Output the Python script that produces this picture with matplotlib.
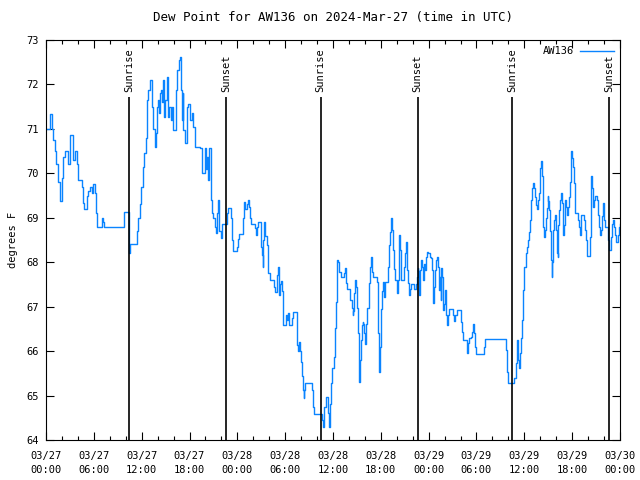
import matplotlib
matplotlib.use("Agg")
import matplotlib.pyplot as plt
from matplotlib.ticker import MultipleLocator

# hours since 2024-03-27 00:00 UTC, dew point in F
hours = [
    0.0, 0.50, 0.72, 0.79, 0.92, 1.13, 1.25, 1.47, 1.76, 1.97, 2.17, 2.38, 2.60, 2.80, 3.01, 3.35, 3.43, 3.64, 3.93, 4.05,
    4.48, 4.60, 4.77, 5.11, 5.31, 5.52, 5.73, 5.93, 6.15, 6.27, 6.36, 6.78, 6.99, 7.19, 7.31, 9.50, 9.79, 10.25, 10.41, 10.54,
    11.17, 11.36, 11.54, 11.79, 11.92, 12.13, 12.30, 12.51, 12.63, 12.71, 12.84, 13.05, 13.26, 13.34, 13.46, 13.68, 13.76, 13.89, 14.02, 14.14,
    14.30, 14.43, 14.55, 14.64, 14.81, 14.93, 15.14, 15.27, 15.47, 15.65, 15.77, 15.97, 16.19, 16.31, 16.47, 16.73, 16.85, 16.94, 17.03, 17.15,
    17.23, 17.44, 17.65, 17.85, 18.07, 18.28, 18.48, 18.70, 19.32, 19.54, 19.74, 19.95, 20.08, 20.24, 20.36, 20.49, 20.66, 20.83, 20.99, 21.17,
    21.33, 21.49, 21.62, 21.74, 21.92, 22.05, 22.52, 22.67, 22.87, 23.17, 23.21, 23.30, 23.43, 23.84, 23.93, 24.05, 24.22, 24.63, 24.76, 24.88,
    25.01, 25.18, 25.31, 25.47, 25.60, 25.68, 26.10, 26.22, 26.35, 26.51, 26.64, 26.85, 26.94, 27.06, 27.19, 27.26, 27.39, 27.52, 27.69, 27.82,
    27.89, 28.11, 28.52, 28.65, 28.73, 28.95, 29.07, 29.20, 29.27, 29.36, 29.49, 29.57, 29.70, 29.77, 29.99, 30.11, 30.28, 30.40, 30.53, 30.74,
    30.87, 31.03, 31.33, 31.46, 31.53, 31.66, 31.74, 31.87, 31.96, 32.08, 32.21, 32.37, 32.41, 32.53, 33.25, 33.34, 33.54, 33.63, 34.47, 34.63,
    34.79, 34.92, 35.13, 35.35, 35.42, 35.55, 35.63, 35.72, 35.88, 36.05, 36.14, 36.22, 36.35, 36.47, 36.55, 36.68, 36.80, 37.01, 37.30, 37.43,
    37.52, 37.64, 37.80, 38.06, 38.18, 38.36, 38.48, 38.56, 38.64, 38.77, 38.90, 38.98, 39.11, 39.23, 39.31, 39.40, 39.49, 39.61, 39.74, 39.81,
    39.90, 40.03, 40.15, 40.31, 40.49, 40.61, 40.78, 40.90, 41.07, 41.41, 41.49, 41.62, 41.69, 41.82, 41.91, 42.03, 42.16, 42.32, 42.45, 42.57,
    42.75, 42.87, 43.04, 43.16, 43.29, 43.41, 43.58, 43.70, 43.83, 44.00, 44.13, 44.25, 44.33, 44.45, 44.54, 44.75, 44.88, 45.04, 45.13, 45.26,
    45.38, 45.51, 45.67, 45.80, 46.09, 46.21, 46.42, 46.51, 46.64, 46.71, 46.84, 46.93, 47.05, 47.18, 47.30, 47.43, 47.55, 47.68, 47.77, 47.97,
    48.18, 48.31, 48.39, 48.52, 48.60, 48.68, 48.81, 48.93, 49.10, 49.18, 49.27, 49.35, 49.44, 49.52, 49.60, 49.72, 49.85, 49.97, 50.10, 50.19,
    50.31, 50.48, 50.60, 50.94, 51.10, 51.23, 51.35, 51.53, 51.94, 52.07, 52.20, 52.36, 52.57, 52.79, 52.86, 52.99, 53.11, 53.29, 53.41, 53.54,
    53.61, 53.74, 53.86, 53.95, 54.79, 54.96, 55.12, 57.63, 57.72, 57.80, 57.90, 58.59, 58.76, 58.93, 59.03, 59.13, 59.26, 59.39, 59.47, 59.56,
    59.69, 59.81, 59.89, 60.01, 60.19, 60.31, 60.44, 60.56, 60.73, 60.82, 60.94, 61.10, 61.27, 61.39, 61.52, 61.64, 61.73, 61.86, 61.94, 62.02,
    62.15, 62.23, 62.32, 62.40, 62.52, 62.65, 62.73, 62.86, 62.95, 63.02, 63.15, 63.24, 63.32, 63.45, 63.52, 63.65, 63.78, 63.86, 63.99, 64.11,
    64.20, 64.28, 64.40, 64.53, 64.66, 64.74, 64.87, 64.99, 65.08, 65.16, 65.28, 65.41, 65.53, 65.62, 65.75, 65.83, 65.91, 66.04, 66.12, 66.25,
    66.34, 66.41, 66.66, 66.75, 66.88, 66.96, 67.09, 67.16, 67.42, 67.50, 67.63, 67.75, 67.84, 67.92, 68.17, 68.26, 68.34, 68.42, 68.51, 68.60,
    68.67, 68.80, 68.88, 69.10, 69.17, 69.30, 69.42, 69.51, 69.60, 69.72, 69.85, 69.97, 70.05, 70.18, 70.35, 70.48, 70.55, 70.68, 70.89, 71.02,
    71.14, 71.23, 71.36, 71.48, 71.68, 71.81, 71.89, 71.98,
]
dewpoint = [
    71.0, 71.33, 71.1, 71.0, 70.75, 70.5, 70.2, 69.8, 69.37, 69.9, 70.37, 70.5, 70.5, 70.2, 70.86, 70.8, 70.3, 70.5, 70.2, 69.85,
    69.7, 69.33, 69.2, 69.5, 69.6, 69.7, 69.55, 69.77, 69.55, 69.1, 68.8, 68.8, 69.0, 68.9, 68.8, 68.8, 69.13, 69.13, 68.2, 68.4,
    68.4, 68.7, 69.0, 69.3, 69.7, 70.15, 70.45, 70.8, 71.2, 71.65, 71.87, 72.1, 71.92, 71.5, 71.0, 70.6, 70.9, 71.5, 71.65, 71.35,
    71.8, 71.87, 71.6, 72.1, 71.27, 71.65, 72.17, 71.27, 71.5, 71.2, 71.5, 70.97, 70.97, 71.87, 72.32, 72.55, 72.62, 71.87, 71.2, 71.8,
    70.97, 70.68, 71.5, 71.55, 71.2, 71.35, 71.05, 70.6, 70.57, 70.0, 70.0, 70.57, 70.1, 70.37, 69.85, 70.57, 69.4, 69.1, 69.0, 68.8,
    68.65, 69.1, 69.4, 68.7, 68.55, 68.87, 68.87, 69.1, 69.21, 69.21, 69.0, 68.5, 68.26, 68.26, 68.35, 68.52, 68.63, 68.63, 69.0, 69.36,
    69.2, 69.3, 69.41, 69.25, 69.0, 68.86, 68.86, 68.76, 68.61, 68.8, 68.9, 68.9, 68.35, 68.16, 67.9, 68.5, 68.9, 68.6, 68.39, 68.05,
    67.75, 67.6, 67.6, 67.45, 67.34, 67.71, 67.9, 67.45, 67.26, 67.5, 67.57, 67.35, 66.85, 66.59, 66.59, 66.81, 66.7, 66.85, 66.59, 66.59,
    66.75, 66.89, 66.89, 66.6, 66.14, 66.0, 66.2, 66.0, 65.76, 65.43, 65.12, 64.94, 65.12, 65.28, 65.28, 65.12, 64.75, 64.58, 64.58, 64.45,
    64.3, 64.75, 64.96, 64.96, 64.6, 64.3, 64.8, 65.29, 65.61, 65.61, 65.87, 66.51, 67.11, 67.75, 68.05, 68.0, 67.79, 67.66, 67.66, 67.75,
    67.88, 67.53, 67.39, 67.39, 67.15, 66.96, 66.81, 66.9, 67.3, 67.6, 67.45, 66.96, 66.4, 65.99, 65.31, 65.8, 66.25, 66.59, 66.65, 66.6,
    66.4, 66.17, 66.6, 66.96, 67.53, 67.9, 68.12, 67.79, 67.66, 67.66, 67.56, 67.26, 66.4, 65.54, 66.1, 66.95, 67.36, 67.56, 67.22, 67.56,
    67.56, 67.9, 68.39, 68.69, 68.99, 68.72, 68.27, 67.85, 67.6, 67.3, 67.6, 68.35, 68.61, 68.27, 67.6, 67.6, 67.9, 68.2, 68.46, 67.82,
    67.53, 67.26, 67.4, 67.5, 67.5, 67.4, 67.5, 67.67, 67.88, 67.8, 67.26, 67.82, 68.05, 67.9, 67.6, 67.97, 67.82, 68.12, 68.24, 68.2,
    68.12, 68.1, 67.82, 67.45, 67.08, 67.45, 67.82, 68.05, 68.12, 67.9, 67.6, 67.37, 67.67, 67.15, 67.86, 67.67, 66.92, 67.07, 67.37, 66.81,
    66.59, 66.81, 66.94, 66.94, 66.81, 66.68, 66.81, 66.92, 66.92, 66.66, 66.44, 66.25, 66.25, 66.1, 65.96, 66.18, 66.3, 66.32, 66.44, 66.51,
    66.61, 66.4, 66.1, 65.94, 65.94, 66.1, 66.27, 66.27, 66.03, 65.54, 65.28, 65.28, 65.4, 65.74, 66.1, 66.25, 65.8, 65.61, 65.95, 66.3,
    66.7, 67.0, 67.37, 67.9, 68.2, 68.35, 68.5, 68.69, 68.95, 69.4, 69.66, 69.78, 69.66, 69.47, 69.29, 69.2, 69.4, 69.55, 69.85, 70.11,
    70.27, 69.95, 69.25, 68.8, 68.57, 68.72, 69.0, 69.22, 69.5, 69.38, 69.18, 68.7, 68.05, 67.67, 68.0, 68.72, 68.95, 69.06, 68.72, 68.2,
    68.12, 68.84, 69.18, 69.4, 69.55, 69.33, 68.61, 68.84, 69.14, 69.4, 69.25, 69.06, 69.25, 69.47, 69.81, 70.27, 70.5, 70.35, 70.15, 69.78,
    69.33, 69.1, 69.1, 68.95, 68.79, 68.61, 68.79, 69.06, 69.06, 68.95, 68.72, 68.5, 68.31, 68.14, 68.14, 68.57, 69.48, 69.93, 69.66, 69.47,
    69.25, 69.4, 69.5, 69.5, 69.4, 69.06, 68.8, 68.61, 68.72, 69.03, 69.33, 69.2, 68.95, 68.8, 68.8, 68.65, 68.5, 68.27, 68.57, 68.87,
    68.95, 68.79, 68.61, 68.46, 68.46, 68.61, 68.79, 68.86,
]

tick_hours = [0, 6, 12, 18, 24, 30, 36, 42, 48, 54, 60, 66, 72]
tick_labels = ["03/27\n00:00", "03/27\n06:00", "03/27\n12:00", "03/27\n18:00",
               "03/28\n00:00", "03/28\n06:00", "03/28\n12:00", "03/28\n18:00",
               "03/29\n00:00", "03/29\n06:00", "03/29\n12:00", "03/29\n18:00",
               "03/30\n00:00"]
sunrise_hours = [10.45, 34.45, 58.45]
sunset_hours = [22.6, 46.6, 70.6]

plt.rcParams["font.family"] = "DejaVu Sans Mono"
plt.rcParams["font.size"] = 7.5

fig = plt.figure(figsize=(6.4, 4.8), dpi=100)
ax = fig.add_axes([46 / 640, 40 / 480, 574 / 640, 400 / 480])

ax.plot(hours, dewpoint, drawstyle="steps-post", color="#0a84ff", lw=1.0, label="AW136")

for h in sunrise_hours:
    ax.vlines(h, 64, 71.72, color="black", lw=1.2)
    ax.text(h, 71.82, "Sunrise", rotation=90, ha="center", va="bottom")
for h in sunset_hours:
    ax.vlines(h, 64, 71.72, color="black", lw=1.2)
    ax.text(h, 71.82, "Sunset", rotation=90, ha="center", va="bottom")

ax.set_xlim(0, 72)
ax.set_ylim(64, 73)
ax.set_xticks(tick_hours, tick_labels, linespacing=1.5)
ax.xaxis.set_minor_locator(MultipleLocator(2))
ax.yaxis.set_major_locator(MultipleLocator(1))
ax.tick_params(which="both", direction="in", top=True, right=True, width=0.8)
ax.tick_params(which="major", length=6)
ax.tick_params(which="minor", length=3)
ax.tick_params(axis="x", pad=8)
ax.tick_params(axis="y", pad=5)
for s in ax.spines.values():
    s.set_linewidth(0.8)

ax.set_ylabel("degrees F", labelpad=6)
ax.set_title("Dew Point for AW136 on 2024-Mar-27 (time in UTC)", pad=14)
ax.legend(loc="upper right", frameon=False, markerfirst=False, handlelength=3.2,
          borderaxespad=0.2, handletextpad=0.6)

fig.savefig("out.png", dpi=100)
